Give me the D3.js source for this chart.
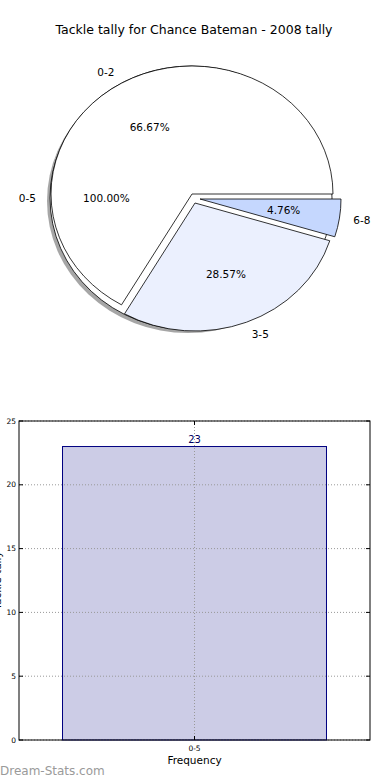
<!DOCTYPE html>
<html>
<head>
<meta charset="utf-8">
<script src="https://cdn.jsdelivr.net/npm/d3@7"></script>
<style>
  body { margin: 0; background: #fff; }
  text { font-family: "DejaVu Sans", sans-serif; }
</style>
</head>
<body>
<svg id="chart" width="390" height="780"></svg>
<script>
const title = "Tackle tally for Chance Bateman - 2008 tally"

// outer (background) pie: one category covering everything
const outerCategories = ["0-5"]
const outerCounts = [23]

// inner pie slices
const pieCategories = ["0-2", "3-5", "6-8"]
const pieCounts = [14, 6, 1]
const pieColours = ["#ffffff", "#ebf0fe", "#c5d7fe"]

// bar chart
const barCategories = ["0-5"]
const barValues = [23]
const yTicks = [0, 5, 10, 15, 20, 25]
const xLabel = "Frequency"
const yLabel = "Tackle tally"

const svg = d3.select("#chart")

svg.append("text")
    .attr("x", 194).attr("y", 34)
    .attr("text-anchor", "middle")
    .attr("font-size", 12.5)
    .text(title)

// ---------- pie ----------
const pie = { cx: 192, cy: 194, rx: 141, ry: 128 }
const outer = { cx: 191, cy: 198, rx: 141, ry: 132 }
// explode shifts, px
const explodeShift = [[0, 0], [3, 9], [8, 5]]

const pct = d3.format(".2f")

function addLabels(g, d, c, name, share) {
    const sx = Math.sin(d.mid), sy = -Math.cos(d.mid)
    g.append("text")
        .attr("x", c.cx + 1.1 * c.rx * sx)
        .attr("y", c.cy + 1.1 * c.ry * sy)
        .attr("text-anchor", sx < -1e-6 ? "end" : "start")
        .attr("dominant-baseline", "central")
        .attr("font-size", 10.5)
        .text(name)
    g.append("text")
        .attr("x", c.cx + 0.6 * c.rx * sx)
        .attr("y", c.cy + 0.6 * c.ry * sy)
        .attr("text-anchor", "middle")
        .attr("dominant-baseline", "central")
        .attr("font-size", 10.5)
        .text(pct(share * 100) + "%")
}

// counterclockwise from 3 o'clock, like matplotlib
const pieLayout = d3.pie().sort(null).startAngle(Math.PI / 2).endAngle(Math.PI / 2 - 2 * Math.PI)
const arc = d3.arc().innerRadius(0).outerRadius(1)

const pieG = svg.append("g")

// outer pie with shadow
const outerTotal = d3.sum(outerCounts)
const outerArcs = pieLayout(outerCounts)
outerArcs.forEach((d, i) => {
    d.mid = (d.startAngle + d.endAngle) / 2
    pieG.append("ellipse")
        .attr("cx", outer.cx - 3).attr("cy", outer.cy + 3)
        .attr("rx", outer.rx).attr("ry", outer.ry)
        .attr("fill", "#4d4d4d").attr("fill-opacity", 0.5)
    pieG.append("ellipse")
        .attr("cx", outer.cx).attr("cy", outer.cy)
        .attr("rx", outer.rx).attr("ry", outer.ry)
        .attr("fill", "#fff").attr("stroke", "#000").attr("stroke-width", 0.8)
})

// inner pie wedges
const total = d3.sum(pieCounts)
const arcs = pieLayout(pieCounts)
arcs.forEach((d, i) => {
    const [dx, dy] = explodeShift[i]
    pieG.append("path")
        .attr("d", arc(d))
        .attr("transform", `translate(${pie.cx + dx},${pie.cy + dy}) scale(${pie.rx},${pie.ry})`)
        .attr("fill", pieColours[i])
        .attr("stroke", "#000")
        .attr("stroke-width", 0.8)
        .attr("stroke-linejoin", "miter")
        .attr("vector-effect", "non-scaling-stroke")
})

outerArcs.forEach((d, i) => addLabels(pieG, d, outer, outerCategories[i], outerCounts[i] / outerTotal))
arcs.forEach((d, i) => {
    const [dx, dy] = explodeShift[i]
    d.mid = (d.startAngle + d.endAngle) / 2
    addLabels(pieG, d, { ...pie, cx: pie.cx + dx, cy: pie.cy + dy }, pieCategories[i], pieCounts[i] / total)
})

// ---------- bar chart ----------
const box = { left: 19, right: 370, top: 421, bottom: 740 }

const x = d3.scaleBand().domain(barCategories).range([box.left, box.right]).padding(0.1415)
const y = d3.scaleLinear().domain([0, 25]).range([box.bottom, box.top])

const barG = svg.append("g")

barG.selectAll("rect.bar")
    .data(barValues)
    .join("rect")
    .attr("class", "bar")
    .attr("x", (d, i) => x(barCategories[i]))
    .attr("y", d => y(d))
    .attr("width", x.bandwidth())
    .attr("height", d => y(0) - y(d))
    .attr("fill", "#000080").attr("fill-opacity", 0.2)
    .attr("stroke", "#000080").attr("stroke-width", 1)

// grid
barG.selectAll("line.hgrid")
    .data(yTicks)
    .join("line")
    .attr("x1", box.left).attr("x2", box.right)
    .attr("y1", d => y(d)).attr("y2", d => y(d))
    .attr("stroke", "#999").attr("stroke-width", 1)
    .attr("stroke-dasharray", "1,2")
barG.selectAll("line.vgrid")
    .data(barCategories)
    .join("line")
    .attr("x1", d => x(d) + x.bandwidth() / 2).attr("x2", d => x(d) + x.bandwidth() / 2)
    .attr("y1", box.top).attr("y2", box.bottom)
    .attr("stroke", "#999").attr("stroke-width", 1)
    .attr("stroke-dasharray", "1,2")

// value label
barG.selectAll("text.val")
    .data(barValues)
    .join("text")
    .attr("x", (d, i) => x(barCategories[i]) + x.bandwidth() / 2)
    .attr("y", d => y(d) - 4)
    .attr("text-anchor", "middle")
    .attr("font-size", 10)
    .attr("fill", "#000060")
    .text(d => d)

// frame
barG.append("rect")
    .attr("x", box.left).attr("y", box.top)
    .attr("width", box.right - box.left).attr("height", box.bottom - box.top)
    .attr("fill", "none").attr("stroke", "#000").attr("stroke-width", 1)

// y ticks (inward, both sides)
yTicks.forEach(t => {
    barG.append("line")
        .attr("x1", box.left).attr("x2", box.left + 4)
        .attr("y1", y(t)).attr("y2", y(t)).attr("stroke", "#000")
    barG.append("line")
        .attr("x1", box.right - 4).attr("x2", box.right)
        .attr("y1", y(t)).attr("y2", y(t)).attr("stroke", "#000")
    barG.append("text")
        .attr("x", box.left - 3).attr("y", y(t))
        .attr("text-anchor", "end")
        .attr("dominant-baseline", "central")
        .attr("font-size", 7.5)
        .text(t)
})

// x ticks
barCategories.forEach(c => {
    const cx = x(c) + x.bandwidth() / 2
    barG.append("line")
        .attr("x1", cx).attr("x2", cx)
        .attr("y1", box.bottom).attr("y2", box.bottom - 4).attr("stroke", "#000")
    barG.append("line")
        .attr("x1", cx).attr("x2", cx)
        .attr("y1", box.top).attr("y2", box.top + 4).attr("stroke", "#000")
    barG.append("text")
        .attr("x", cx).attr("y", box.bottom + 11)
        .attr("text-anchor", "middle")
        .attr("font-size", 7.5)
        .text(c)
})

barG.append("text")
    .attr("x", (box.left + box.right) / 2).attr("y", box.bottom + 24)
    .attr("text-anchor", "middle")
    .attr("font-size", 10.5)
    .text(xLabel)

// y label sits mostly off the left edge, as in the original
barG.append("text")
    .attr("transform", `translate(1, ${(box.top + box.bottom) / 2}) rotate(-90)`)
    .attr("text-anchor", "middle")
    .attr("font-size", 10.5)
    .text(yLabel)

svg.append("text")
    .attr("x", 0).attr("y", 775)
    .attr("font-size", 12)
    .attr("fill", "#9a9a9a")
    .text("Dream-Stats.com")
</script>
</body>
</html>
